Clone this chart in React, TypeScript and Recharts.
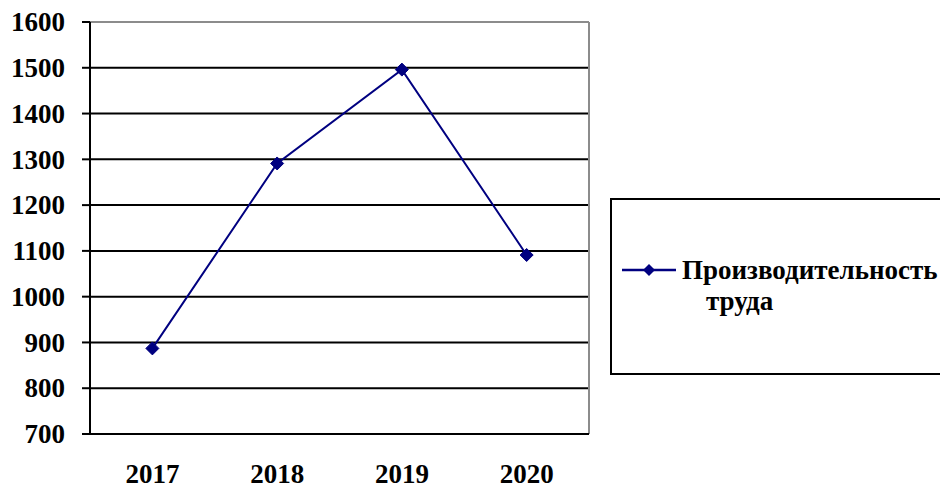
import React from 'react';
import { LineChart, Line, XAxis, YAxis, CartesianGrid, ReferenceLine, Legend } from 'recharts';

const years = ['2017', '2018', '2019', '2020'];
const productivity = [887, 1291, 1496, 1091];
const yTicks = [700, 800, 900, 1000, 1100, 1200, 1300, 1400, 1500, 1600];
const boundaryTicks = [0, 1, 2, 3, 4];
const labelTicks = [0.5, 1.5, 2.5, 3.5];
const seriesName = 'Производительность труда';

const data = years.map((year, i) => ({ x: i + 0.5, year, value: productivity[i] }));

const FONT = 'Liberation Serif';
const NAVY = '#000080';

const Diamond = (props: any) => {
  const { cx, cy } = props;
  if (cx == null || cy == null) return null;
  const r = 6.5;
  return (
    <polygon
      points={`${cx},${cy - r} ${cx + r},${cy} ${cx},${cy + r} ${cx - r},${cy}`}
      fill={NAVY}
      stroke={NAVY}
      strokeWidth={1}
    />
  );
};

const TickText = (props: any) => {
  const { x, y, payload, textAnchor, formatter, dyv } = props;
  const label = formatter ? formatter(payload.value) : String(payload.value);
  return (
    <text x={x} y={y} dy={dyv} textAnchor={textAnchor} fontFamily={FONT} fontWeight="bold" fontSize={27} fill="#000">
      {label}
    </text>
  );
};

const LegendBox = (props: any) => {
  const payload = props.payload || [];
  const name: string = (payload[0] && payload[0].value) || seriesName;
  const parts = name.split(' ');
  const r = 6;
  return (
    <div style={{ width: 340, height: 177, border: '2px solid #000', boxSizing: 'border-box', background: '#fff' }}>
      <svg width={340} height={173} style={{ display: 'block' }}>
        <line x1={10} y1={70} x2={64} y2={70} stroke={NAVY} strokeWidth={2.5} />
        <polygon points={`37,${70 - r} ${37 + r},70 37,${70 + r} ${37 - r},70`} fill={NAVY} />
        <text x={70} y={79} fontFamily={FONT} fontWeight="bold" fontSize={27} fill="#000">{parts[0]}</text>
        <text x={94} y={110} fontFamily={FONT} fontWeight="bold" fontSize={27} fill="#000">{parts.slice(1).join(' ')}</text>
      </svg>
    </div>
  );
};

const yearLabel = (v: number) => years[Math.floor(v)];

export default function App() {
  return (
    <div style={{ position: 'absolute', left: 0, top: 0, width: 940, height: 490, overflow: 'hidden', background: '#fff' }}>
      <LineChart width={940} height={490} data={data} margin={{ top: 22, right: 351, bottom: 0, left: 0 }}>
        <CartesianGrid horizontal={true} vertical={false} stroke="#000" strokeWidth={2} />
        <ReferenceLine y={1600} stroke="#8c8c8c" strokeWidth={2} ifOverflow="extendDomain" />
        <ReferenceLine x={4} stroke="#8c8c8c" strokeWidth={2} />
        <XAxis
          dataKey="x"
          type="number"
          domain={[0, 4]}
          ticks={boundaryTicks}
          tick={false}
          tickSize={9}
          height={9}
          axisLine={{ stroke: '#000', strokeWidth: 2 }}
          tickLine={{ stroke: '#000', strokeWidth: 2 }}
        />
        <XAxis
          xAxisId="labels"
          dataKey="x"
          type="number"
          domain={[0, 4]}
          ticks={labelTicks}
          tickSize={0}
          tickMargin={21}
          height={47}
          axisLine={false}
          tickLine={false}
          tick={<TickText formatter={yearLabel} dyv="0.71em" />}
        />
        <YAxis
          domain={[700, 1600]}
          ticks={yTicks}
          width={90}
          tickSize={8}
          tickMargin={17}
          axisLine={{ stroke: '#000', strokeWidth: 2 }}
          tickLine={{ stroke: '#000', strokeWidth: 2 }}
          tick={<TickText dyv="0.34em" />}
          interval={0}
        />
        <Legend
          layout="horizontal"
          verticalAlign="middle"
          align="center"
          content={<LegendBox />}
          wrapperStyle={{ left: 610, top: 198, width: 340, height: 177, bottom: 'auto', right: 'auto' }}
        />
        <Line
          type="linear"
          dataKey="value"
          name={seriesName}
          stroke={NAVY}
          strokeWidth={2}
          dot={<Diamond />}
          activeDot={false}
          isAnimationActive={false}
        />
      </LineChart>
    </div>
  );
}
